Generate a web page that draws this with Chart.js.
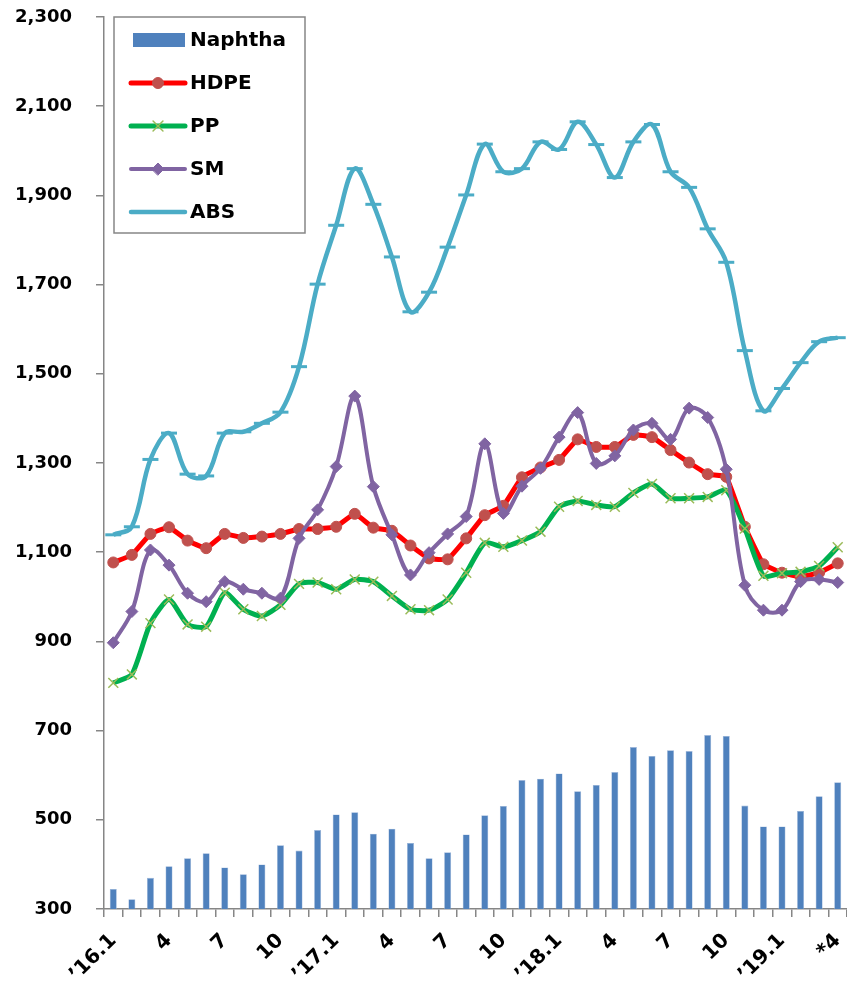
<!DOCTYPE html>
<html>
<head>
<meta charset="utf-8">
<script src="https://cdn.jsdelivr.net/npm/chart.js@4.4.1/dist/chart.umd.min.js"></script>
<style>
  html, body { margin: 0; padding: 0; background: #fff; overflow: hidden; }
  #myChart { display: block; }
</style>
</head>
<body>
<canvas id="myChart" width="847" height="985"></canvas>
<script>
// months '16.1 .. '19.4, only every third one gets a label
const months = ['’16.1','2','3','4','5','6','7','8','9','10','11','12',
                '’17.1','2','3','4','5','6','7','8','9','10','11','12',
                '’18.1','2','3','4','5','6','7','8','9','10','11','12',
                '’19.1','2','3','*4'];

const naphtha = [345,322,370,396,414,425,393,378,400,443,431,477,
                 512,517,469,480,448,414,427,467,510,531,589,592,
                 604,564,578,607,663,643,656,654,690,688,532,485,
                 485,520,553,584];
const hdpe = [1077,1094,1141,1156,1126,1109,1141,1132,1135,1141,1152,1152,
              1157,1186,1155,1148,1115,1086,1084,1131,1183,1204,1268,1290,
              1307,1353,1336,1336,1363,1358,1329,1301,1275,1269,1157,1073,
              1054,1045,1054,1075];
const pp = [807,826,941,994,938,933,1009,972,957,982,1029,1032,
            1017,1039,1034,1002,972,970,994,1054,1121,1112,1126,1146,
            1202,1215,1206,1202,1233,1253,1221,1221,1224,1239,1153,1047,
            1053,1056,1069,1111];
const sm = [897,967,1105,1071,1008,989,1034,1017,1008,997,1131,1195,
            1292,1450,1247,1139,1049,1099,1141,1180,1343,1187,1248,1288,
            1358,1413,1299,1316,1374,1389,1353,1423,1402,1286,1026,970,
            970,1034,1039,1032];
const abs = [1139,1157,1308,1367,1275,1271,1367,1370,1389,1414,1516,1701,
             1833,1960,1880,1762,1639,1683,1784,1901,2015,1953,1960,2020,
             2003,2065,2014,1940,2020,2059,1953,1918,1825,1750,1552,1417,
             1467,1525,1572,1581];

const FONT = 'DejaVu Sans, sans-serif';

// legend drawn inside the plot, Excel style
const boxLegend = {
    id: 'boxLegend',
    afterDraw(chart) {
        const { ctx, chartArea } = chart;
        const x0 = chartArea.left + 10, y0 = chartArea.top;
        const w = 191, h = 216;
        ctx.save();
        ctx.fillStyle = '#fff';
        ctx.fillRect(x0, y0, w, h);
        ctx.strokeStyle = '#868686';
        ctx.lineWidth = 1.5;
        ctx.strokeRect(x0, y0, w, h);

        chart.data.datasets.forEach((ds, i) => {
            const cy = y0 + 23 + i * 43;
            const sx = x0 + 17, ex = x0 + 71, mx = (sx + ex) / 2;
            if (ds.type === 'bar') {
                ctx.fillStyle = ds.backgroundColor;
                ctx.fillRect(sx + 2, cy - 7, ex - sx - 2, 14);
            } else {
                ctx.strokeStyle = ds.borderColor;
                ctx.lineWidth = ds.borderWidth;
                ctx.lineCap = 'round';
                ctx.beginPath();
                ctx.moveTo(sx, cy);
                ctx.lineTo(ex, cy);
                ctx.stroke();
                if (ds.pointStyle) {
                    ctx.fillStyle = ds.pointBackgroundColor;
                    ctx.strokeStyle = ds.pointBorderColor;
                    ctx.lineWidth = ds.pointBorderWidth;
                    Chart.helpers.drawPoint(ctx, {
                        pointStyle: ds.pointStyle,
                        radius: ds.pointRadius,
                        rotation: 0,
                        borderWidth: ds.pointBorderWidth
                    }, mx, cy);
                }
            }
            ctx.fillStyle = '#000';
            ctx.font = 'bold 20px ' + FONT;
            ctx.textBaseline = 'middle';
            ctx.textAlign = 'left';
            ctx.fillText(ds.label, x0 + 76, cy + 1);
        });
        ctx.restore();
    }
};

const data = {
    labels: months,
    datasets: [
        {
            type: 'bar',
            label: 'Naphtha',
            data: naphtha,
            backgroundColor: '#4F81BD',
            borderColor: '#9DB6DA',
            borderWidth: 0.6,
            barPercentage: 0.42,
            categoryPercentage: 0.9,
            order: 5
        },
        {
            type: 'line',
            label: 'HDPE',
            data: hdpe,
            borderColor: '#FF0000',
            borderWidth: 5,
            tension: 0.1,
            pointStyle: 'circle',
            pointRadius: 5.5,
            pointBackgroundColor: '#C0504D',
            pointBorderColor: '#C0504D',
            pointBorderWidth: 1,
            order: 4
        },
        {
            type: 'line',
            label: 'PP',
            data: pp,
            borderColor: '#00B050',
            borderWidth: 5,
            tension: 0.2,
            pointStyle: 'crossRot',
            pointRadius: 7,
            pointBackgroundColor: '#9BBB59',
            pointBorderColor: '#9BBB59',
            pointBorderWidth: 1.5,
            order: 3
        },
        {
            type: 'line',
            label: 'SM',
            data: sm,
            borderColor: '#8064A2',
            borderWidth: 4,
            tension: 0.35,
            pointStyle: 'rectRot',
            pointRadius: 6,
            pointBackgroundColor: '#8064A2',
            pointBorderColor: '#8064A2',
            pointBorderWidth: 1,
            order: 2
        },
        {
            type: 'line',
            label: 'ABS',
            data: abs,
            borderColor: '#4BACC6',
            borderWidth: 4.5,
            tension: 0.35,
            pointStyle: 'line',
            pointRadius: 8,
            pointBackgroundColor: '#4BACC6',
            pointBorderColor: '#4BACC6',
            pointBorderWidth: 3,
            order: 1
        }
    ]
};

const config = {
    type: 'bar',
    data: data,
    options: {
        responsive: false,
        animation: false,
        layout: { autoPadding: false, padding: { top: 17, right: 0, left: 0, bottom: 0 } },
        scales: {
            x: {
                grid: {
                    offset: true,
                    drawOnChartArea: false,
                    color: '#868686',
                    tickLength: 8,
                    lineWidth: 1.5
                },
                border: { color: '#868686', width: 1.5 },
                ticks: {
                    autoSkip: false,
                    maxRotation: 45,
                    minRotation: 45,
                    padding: 12,
                    color: '#000',
                    font: { family: FONT, size: 20, weight: 'bold' },
                    callback: function (v, i) { return i % 3 === 0 ? months[i] : ''; }
                },
                afterFit(scale) {
                    scale.height = 76;
                    scale.paddingLeft = 0;
                    scale.paddingRight = 0;
                }
            },
            y: {
                min: 300,
                max: 2300,
                grid: {
                    drawOnChartArea: false,
                    color: '#868686',
                    tickLength: 8,
                    lineWidth: 1.5
                },
                border: { color: '#868686', width: 1.5 },
                ticks: {
                    stepSize: 200,
                    padding: 24,
                    color: '#000',
                    font: { family: FONT, size: 18, weight: 'bold' },
                    callback: v => v.toLocaleString('en-US')
                },
                afterFit(scale) {
                    scale.width = 104;
                    scale.paddingTop = 0;
                    scale.paddingBottom = 0;
                }
            }
        },
        plugins: {
            legend: { display: false },
            tooltip: { enabled: false }
        }
    },
    plugins: [boxLegend]
};

const myChart = new Chart(document.getElementById('myChart'), config);
</script>
</body>
</html>
